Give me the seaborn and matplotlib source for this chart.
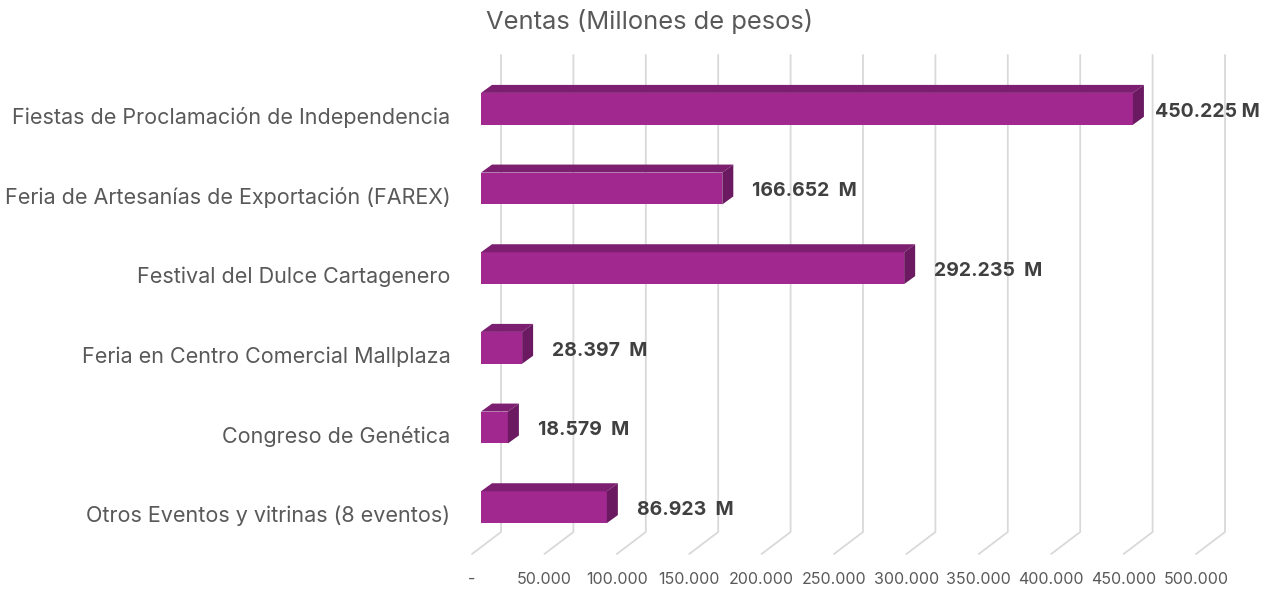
import matplotlib
matplotlib.use('Agg')
import matplotlib.pyplot as plt
import matplotlib.transforms as mtransforms
from matplotlib.patches import Polygon
from matplotlib.lines import Line2D
import seaborn as sns
import pandas as pd

# Data
events = ['Fiestas de Proclamación de Independencia',
          'Feria de Artesanías de Exportación (FAREX)',
          'Festival del Dulce Cartagenero',
          'Feria en Centro Comercial Mallplaza',
          'Congreso de Genética',
          'Otros Eventos y vitrinas (8 eventos)']
ventas = [450225, 166652, 292235, 28397, 18579, 86923]
value_labels = ['450.225 M', '166.652  M', '292.235  M', '28.397  M', '18.579  M', '86.923  M']
tick_values = [0, 50000, 100000, 150000, 200000, 250000, 300000, 350000, 400000, 450000, 500000]
tick_labels = ['-', '50.000', '100.000', '150.000', '200.000', '250.000',
               '300.000', '350.000', '400.000', '450.000', '500.000']

df = pd.DataFrame({'evento': events, 'ventas': ventas})

front_c = '#A0288F'
top_c = '#7C1F70'
side_c = '#6B1A61'
grid_c = '#D9D9D9'

sns.set_style('white')
plt.rcParams['font.family'] = ['Inter', 'DejaVu Sans']

W, H = 1261, 592
fig = plt.figure(figsize=(W / 100, H / 100), dpi=100)
# axes: x 0 -> px 481, 500000 -> px 1205 ; rows centred from px 109, step ~79.6
ax = fig.add_axes([481 / W, (H - 547) / H, 724 / W, 478 / H])
ax.set_xlim(0, 500000)

sns.barplot(data=df, x='ventas', y='evento', color=front_c, width=0.40,
            saturation=1, ax=ax, zorder=3)
ax.set_ylim(5.5, -0.5)
sns.despine(ax=ax, left=True, bottom=True, top=True, right=True)
ax.set_xlabel('')
ax.set_ylabel('')

px = mtransforms.IdentityTransform()
# 3D depth offsets (pixels)
dx, dy = 11, 8          # bar depth
wall_dx = 20            # back wall behind front face
floor_dx = -9           # floor front edge relative to front face

# gridlines: back wall + floor diagonal
y_top = H - 55
y_back = H - 532
y_front = H - 554
for v in tick_values:
    xp = ax.transData.transform((v, 0))[0]
    ax.add_line(Line2D([xp + wall_dx, xp + wall_dx, xp + floor_dx],
                       [y_top, y_back, y_front], transform=px,
                       color=grid_c, lw=1.3, zorder=1, clip_on=False))

# 3D faces for each bar
for p in ax.patches:
    x0, y0 = ax.transData.transform((p.get_x(), p.get_y()))
    x1, y1 = ax.transData.transform((p.get_x() + p.get_width(), p.get_y() + p.get_height()))
    ylo, yhi = min(y0, y1), max(y0, y1)
    top = Polygon([(x0, yhi), (x0 + dx, yhi + dy), (x1 + dx, yhi + dy), (x1, yhi)],
                  closed=True, transform=px, facecolor=top_c, edgecolor='none', zorder=4)
    side = Polygon([(x1, yhi), (x1 + dx, yhi + dy), (x1 + dx, ylo + dy), (x1, ylo)],
                   closed=True, transform=px, facecolor=side_c, edgecolor='none', zorder=4)
    ax.add_patch(top)
    ax.add_patch(side)
    p.set_edgecolor('none')

# value labels
for i, (v, lab) in enumerate(zip(ventas, value_labels)):
    off = 22 if i == 0 else 30
    ax.text(v, i + 0.035, lab,
            transform=ax.transData + mtransforms.ScaledTranslation(off / 100, 0, fig.dpi_scale_trans),
            ha='left', va='center', fontsize=14, fontweight='bold', color='#404040', zorder=5)

# category labels
ax.set_yticks(range(len(events)))
ax.set_yticklabels(events, fontsize=15.5, color='#595959')
ax.tick_params(axis='y', length=0, pad=22)
for lab in ax.get_yticklabels():
    lab.set_transform(lab.get_transform() + mtransforms.ScaledTranslation(0, -7 / 100, fig.dpi_scale_trans))

# x tick labels on the floor front edge
ax.set_xticks(tick_values)
ax.set_xticklabels(tick_labels, fontsize=11.5, color='#595959')
ax.tick_params(axis='x', length=0, pad=18)
for lab in ax.get_xticklabels():
    lab.set_transform(lab.get_transform() + mtransforms.ScaledTranslation(floor_dx / 100, 0, fig.dpi_scale_trans))

fig.text(650 / W, 1 - 22 / H, 'Ventas (Millones de pesos)', ha='center', va='center',
         fontsize=18.4, color='#595959')

fig.savefig('out.png', dpi=100)
